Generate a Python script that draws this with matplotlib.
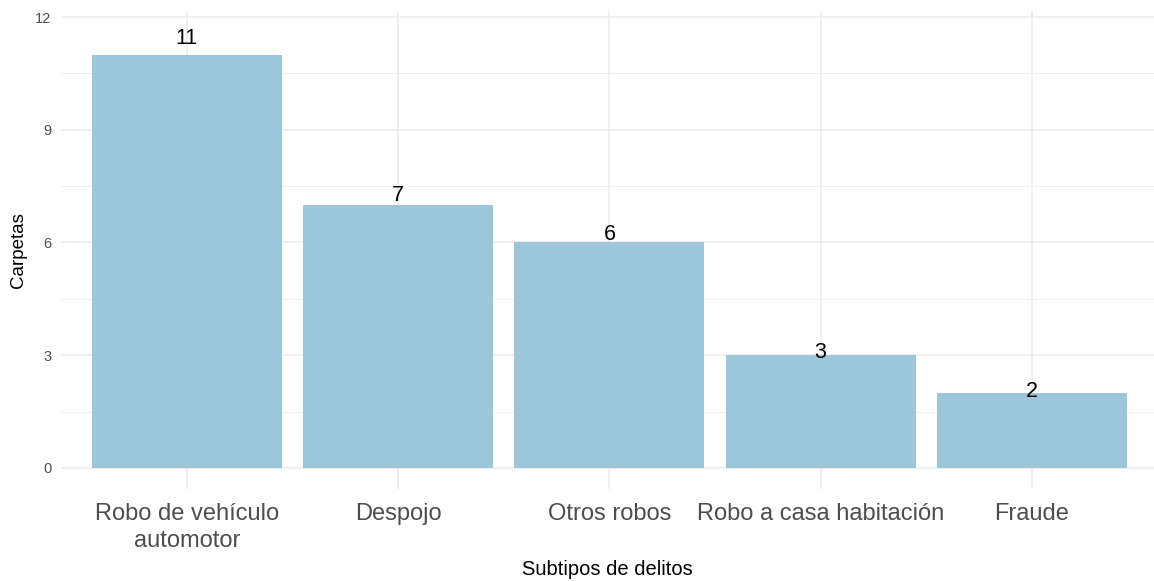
import matplotlib
matplotlib.use('Agg')
import matplotlib.pyplot as plt
from matplotlib.ticker import MultipleLocator

plt.rcParams['font.family'] = ['Liberation Sans', 'DejaVu Sans']

categories = ['Robo de vehículo\nautomotor', 'Despojo', 'Otros robos',
              'Robo a casa habitación', 'Fraude']
carpetas = [11, 7, 6, 3, 2]
y_ticks = [0, 3, 6, 9, 12]

bar_color = '#9dc6da'
grid_color = '#ebebeb'

fig = plt.figure(figsize=(11.54, 5.81), dpi=100)
ax = fig.add_axes([61 / 1154, 1 - 489 / 581, 1 - 61 / 1154, (489 - 11) / 581])

x = list(range(len(categories)))
ax.bar(x, carpetas, width=0.9, color=bar_color, zorder=2)

# labels sit a little above each bar, scaled with the bar height
for xi, v in zip(x, carpetas):
    ax.text(xi, v * 1.045, str(v), ha='center', va='center_baseline',
            fontsize=15.5, color='black', zorder=3)

ax.set_xlim(-0.596, 4.578)
ax.set_ylim(-0.56, 12.16)
ax.set_xticks(x)
ax.set_xticklabels(categories, fontsize=17, color='#4d4d4d', linespacing=1.3)
ax.set_yticks(y_ticks)
ax.set_yticklabels([str(t) for t in y_ticks], fontsize=10.5, color='#4d4d4d')
ax.yaxis.set_minor_locator(MultipleLocator(1.5))

ax.tick_params(axis='both', which='both', length=0)
ax.tick_params(axis='x', pad=10)
ax.tick_params(axis='y', pad=7)

ax.grid(True, which='major', color=grid_color, linewidth=1.1, zorder=0)
ax.grid(True, which='minor', axis='y', color=grid_color, linewidth=0.55, zorder=0)
ax.set_axisbelow(True)
for s in ax.spines.values():
    s.set_visible(False)

ax.set_xlabel('Subtipos de delitos', fontsize=14.5, color='black', labelpad=6)
ax.set_ylabel('Carpetas', fontsize=13.5, color='black', labelpad=6)

fig.savefig('out.png', dpi=100)
